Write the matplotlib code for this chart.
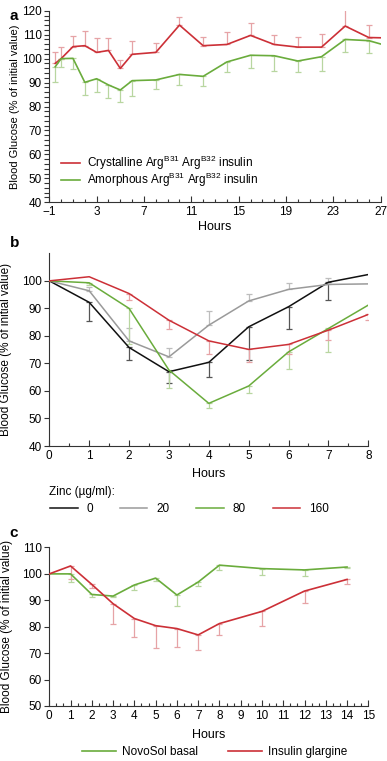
import matplotlib
matplotlib.use("Agg")
import matplotlib.pyplot as plt
from matplotlib.ticker import MultipleLocator
import numpy as np

plt.rcParams['font.family'] = ['Liberation Sans', 'DejaVu Sans']
plt.rcParams['mathtext.fontset'] = 'custom'
plt.rcParams['mathtext.rm'] = 'Liberation Sans'
plt.rcParams['font.size'] = 8

RED = '#cc3037'
GREEN = '#6aac3c'
RED_ERR = '#e6a3a6'
GREEN_ERR = '#b8d6a0'

# ---- panel a data ----
hours_a = [-0.5, 0, 1, 2, 3, 4, 5, 6, 8, 10, 12, 14, 16, 18, 20, 22, 24, 26, 27]
crystalline = [98, 100, 105, 105.4, 102.6, 103.4, 95.9, 101.8, 102.6, 114, 105.4,
               105.9, 109.7, 105.9, 104.8, 104.8, 113.6, 108.8, 108.7]
crystalline_err = [4.9, 5, 4.4, 6.2, 6.1, 5.1, 3.5, 5.7, 3.8, 3.5, 3.8,
                   5.2, 5.3, 4.1, 4.4, 5.3, 7.1, 5.4, 0]
amorphous = [96.6, 100, 100.1, 90.1, 91.6, 89, 86.9, 90.8, 91.1, 93.4, 92.6,
             98.6, 101.4, 101.2, 99, 100.8, 108, 107.5, 106.1]
amorphous_err = [6.2, 3.4, 4.4, 5.3, 5.4, 5.5, 4.9, 6.4, 3.9, 4.5, 4,
                 4.2, 5.5, 6.3, 4.6, 5.9, 5.1, 5, 0]

# ---- panel b data ----
hours_b = [0, 1, 2, 3, 4, 5, 6, 7, 8]
zinc_labels = ['0', '20', '80', '160']
zn0 = [100, 92.2, 75.8, 67, 70.4, 83.3, 90.6, 99.5, 102.3]
zn0_err = [0, 6.6, 4.6, 4.2, 5.2, 12, 8.2, 6.3, 0]
zn20 = [100, 96.4, 78.2, 72.4, 83.9, 92.7, 96.9, 98.7, 98.9]
zn20_err = [0, 1.5, 4.5, 3.1, 5.2, 2.6, 2.2, 2.5, 0]
zn80 = [100, 99.3, 90, 67.6, 55.5, 61.8, 74.2, 82.7, 91.2]
zn80_err = [0, 0.8, 13, 6.7, 1.8, 2.7, 6.4, 8.5, 0]
zn160 = [100, 101.5, 95.4, 85.7, 78.2, 75.1, 76.9, 82.1, 87.8]
zn160_err = [0, 0, 2.4, 3.2, 4.6, 4.5, 3.5, 3.6, 2.1]

# ---- panel c data ----
hours_c = [0, 1, 2, 3, 4, 5, 6, 7, 8, 10, 12, 14]
novosol = [100, 100, 92.2, 91.6, 95.8, 98.4, 92, 96.9, 103.3, 102, 101.5, 102.6]
novosol_err = [0, 2.9, 1, 0.5, 1.9, 1.1, 4, 1.5, 1.8, 2.3, 2.3, 0.5]
glargine = [100, 103, 96, 88.7, 83.1, 80.4, 79.3, 76.9, 81.2, 85.8, 93.5, 97.9]
glargine_err = [0, 5.1, 1.2, 7.6, 7, 8.4, 7, 5.7, 4.2, 5.6, 4.4, 1.6]

YLABEL = 'Blood Glucose (% of initial value)'


def style_axes(ax):
    ax.spines['top'].set_visible(False)
    ax.spines['right'].set_visible(False)
    for s in ('left', 'bottom'):
        ax.spines[s].set_color('#333333')
        ax.spines[s].set_linewidth(0.8)
    ax.tick_params(axis='y', which='both', direction='out', length=3.5, width=0.8,
                   color='#333333', pad=2)
    ax.tick_params(axis='x', which='major', direction='in', length=4, width=0.8,
                   color='#333333', pad=3)
    ax.tick_params(axis='x', which='minor', direction='in', length=2.5, width=0.8,
                   color='#333333')
    ax.tick_params(labelsize=8.5)


def one_sided(ax, x, y, err, color, ecolor, up, lw=1.2):
    # error bars are drawn on one side only, as in the figure
    err = np.asarray(err)
    zeros = np.zeros_like(err)
    yerr = [zeros, err] if up else [err, zeros]
    mask = err > 0
    ax.errorbar(np.asarray(x)[mask], np.asarray(y)[mask],
                yerr=[yerr[0][mask], yerr[1][mask]], fmt='none',
                ecolor=ecolor, elinewidth=0.9, capsize=2.2, capthick=0.9, zorder=2)
    line, = ax.plot(x, y, color=color, lw=lw, zorder=3)
    return line


fig = plt.figure(figsize=(3.87, 7.61), dpi=100)

# ---------------- panel a ----------------
ax_a = fig.add_axes([0.1274, 0.7342, 0.8563, 0.2517])
la1 = one_sided(ax_a, hours_a, crystalline, crystalline_err, RED, RED_ERR, up=True)
la2 = one_sided(ax_a, hours_a, amorphous, amorphous_err, GREEN, GREEN_ERR, up=False)
ax_a.set_xlim(-1, 27)
ax_a.set_ylim(40, 120)
ax_a.set_xticks(np.arange(-1, 28, 4))
ax_a.xaxis.set_minor_locator(MultipleLocator(1))
ax_a.yaxis.set_major_locator(MultipleLocator(10))
ax_a.yaxis.set_minor_locator(MultipleLocator(2))
style_axes(ax_a)
ax_a.set_xlabel('Hours', fontsize=9, labelpad=2)
ax_a.set_ylabel(YLABEL, fontsize=8)
ax_a.yaxis.set_label_coords(-0.088, 0.5)
ax_a.legend([la1, la2],
            [r'Crystalline Arg$^{\mathrm{B31}}$ Arg$^{\mathrm{B32}}$ insulin',
             r'Amorphous Arg$^{\mathrm{B31}}$ Arg$^{\mathrm{B32}}$ insulin'],
            loc='lower left', bbox_to_anchor=(0.02, 0.045), frameon=False,
            fontsize=8.5, handlelength=1.6, handletextpad=0.6, labelspacing=-0.1,
            borderaxespad=0)
fig.text(0.025, 0.988, 'a', fontsize=11, fontweight='bold', va='top')

# ---------------- panel b ----------------
ax_b = fig.add_axes([0.1274, 0.4139, 0.8243, 0.2532])
colors_b = ['#111111', '#9a9a9a', GREEN, RED]
ecolors_b = ['#555555', '#bdbdbd', GREEN_ERR, RED_ERR]
series_b = [(zn0, zn0_err, False), (zn20, zn20_err, True),
            (zn80, zn80_err, False), (zn160, zn160_err, False)]
lines_b = []
for (vals, errs, up), c, ec in zip(series_b, colors_b, ecolors_b):
    lines_b.append(one_sided(ax_b, hours_b, vals, errs, c, ec, up=up, lw=1.1))
ax_b.set_xlim(0, 8)
ax_b.set_ylim(40, 110)
ax_b.set_yticks(np.arange(40, 101, 10))
ax_b.xaxis.set_major_locator(MultipleLocator(1))
ax_b.xaxis.set_minor_locator(MultipleLocator(0.5))
style_axes(ax_b)
ax_b.set_xlabel('Hours', fontsize=9, labelpad=4)
ax_b.set_ylabel(YLABEL, fontsize=8.5)
ax_b.yaxis.set_label_coords(-0.117, 0.5)
fig.text(0.1274, 1 - 492 / 761, 'Zinc (µg/ml):', fontsize=8.5, va='center')
fig.legend(lines_b, zinc_labels, loc='center left',
           bbox_to_anchor=(0.118, 1 - 509 / 761), ncol=4, frameon=False,
           fontsize=8.5, handlelength=2.3, handletextpad=0.75, columnspacing=2.3,
           borderaxespad=0)
fig.text(0.025, 1 - 236 / 761, 'b', fontsize=11, fontweight='bold', va='top')

# ---------------- panel c ----------------
ax_c = fig.add_axes([0.1274, 0.0723, 0.8243, 0.2083])
lc1 = one_sided(ax_c, hours_c, novosol, novosol_err, GREEN, GREEN_ERR, up=False)
lc2 = one_sided(ax_c, hours_c, glargine, glargine_err, RED, RED_ERR, up=False)
ax_c.set_xlim(0, 15)
ax_c.set_ylim(50, 110)
ax_c.xaxis.set_major_locator(MultipleLocator(1))
ax_c.xaxis.set_minor_locator(MultipleLocator(1 / 3))
ax_c.yaxis.set_major_locator(MultipleLocator(10))
style_axes(ax_c)
ax_c.set_xlabel('Hours', fontsize=9, labelpad=5)
ax_c.set_ylabel(YLABEL, fontsize=8.5)
ax_c.yaxis.set_label_coords(-0.114, 0.5)
fig.legend([lc1, lc2], ['NovoSol basal', 'Insulin glargine'], loc='center left',
           bbox_to_anchor=(0.2, 1 - 752 / 761), ncol=2, frameon=False,
           fontsize=8.5, handlelength=2.9, handletextpad=0.5, columnspacing=2.5,
           borderaxespad=0)
fig.text(0.025, 1 - 526 / 761, 'c', fontsize=11, fontweight='bold', va='top')

fig.savefig('out.png', dpi=100)
